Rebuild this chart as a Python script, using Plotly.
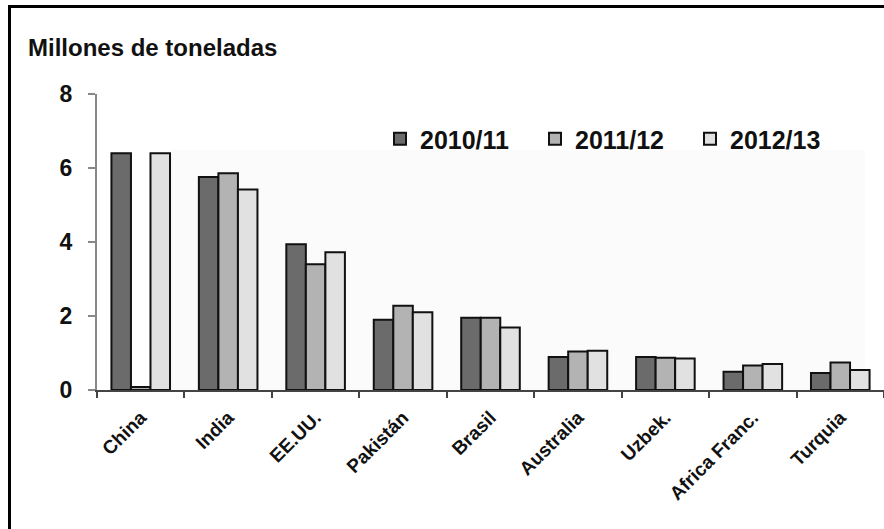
import plotly.graph_objects as go

categories = ["China", "India", "EE.UU.", "Pakistán", "Brasil", "Australia", "Uzbek.", "Africa Franc.", "Turquia"]
series_names = ["2010/11", "2011/12", "2012/13"]
v2010 = [6.40, 5.76, 3.94, 1.90, 1.95, 0.89, 0.89, 0.49, 0.46]
v2011 = [0.08, 5.86, 3.40, 2.28, 1.95, 1.04, 0.87, 0.66, 0.74]
v2012 = [6.40, 5.42, 3.72, 2.10, 1.69, 1.06, 0.85, 0.70, 0.54]
colors = ["#6b6b6b", "#b3b3b3", "#e1e1e1"]
yticks = [0, 2, 4, 6, 8]

W, H = 884, 529
L, T, R = 97, 94, 0
B = H - 390
pw, ph = W - L - R, H - T - B

def px_x(x):
    return (x - L) / pw

def px_y(y):
    return 1 - (y - T) / ph

FONT = "Liberation Sans, Arial, sans-serif"

fig = go.Figure()
for name, vals, col in zip(series_names, [v2010, v2011, v2012], colors):
    fig.add_trace(go.Bar(
        x=categories, y=vals, name=name,
        marker=dict(color=col, line=dict(color="#111111", width=2)),
    ))

fig.update_layout(
    width=W, height=H,
    margin=dict(l=L, r=R, t=T, b=B, pad=0),
    paper_bgcolor="white", plot_bgcolor="white",
    barmode="group", bargap=0.33, bargroupgap=0,
    font=dict(family=FONT, color="#111111"),
    showlegend=True,
    legend=dict(
        orientation="h", x=px_x(380), xanchor="left", y=px_y(139), yanchor="middle",
        font=dict(family=FONT, size=25, color="#111111", weight="bold"),
        entrywidth=110, entrywidthmode="pixels",
        itemsizing="constant", bgcolor="rgba(0,0,0,0)",
        tracegroupgap=0,
    ),
    xaxis=dict(
        showline=True, linecolor="#444444", linewidth=2,
        ticks="outside", tickson="boundaries", ticklen=6, tickcolor="#444444", tickwidth=2,
        tickangle=-45, tickfont=dict(family=FONT, size=19, color="#111111", weight="bold"),
        ticklabelstandoff=7,
        showgrid=False,
    ),
    yaxis=dict(
        range=[0, 8], tickvals=yticks, ticktext=[str(v) for v in yticks],
        showline=True, linecolor="#888888", linewidth=2,
        ticks="outside", ticklen=7, tickcolor="#888888", tickwidth=2,
        tickfont=dict(family=FONT, size=23, color="#111111", weight="bold"),
        ticklabelstandoff=11,
        showgrid=False, zeroline=False,
    ),
    annotations=[dict(
        text="<b>Millones de toneladas</b>", xref="paper", yref="paper",
        x=px_x(26), y=px_y(47), xanchor="left", yanchor="middle",
        showarrow=False, font=dict(family=FONT, size=24, color="#111111"),
    )],
    shapes=[
        dict(type="rect", xref="paper", yref="paper", layer="below",
             x0=px_x(170), x1=px_x(865), y0=px_y(390), y1=px_y(150),
             fillcolor="#fbfbfb", line=dict(width=0)),
        dict(type="line", xref="paper", yref="paper", x0=px_x(9.5), x1=px_x(9.5), y0=px_y(5.5), y1=px_y(529), line=dict(color="black", width=3)),
        dict(type="line", xref="paper", yref="paper", x0=px_x(8), x1=px_x(884), y0=px_y(6.5), y1=px_y(6.5), line=dict(color="black", width=3)),
    ],
)

fig.write_html("out.html", config={"displayModeBar": False},
               post_script="document.body.style.margin='0';document.body.style.overflow='hidden';")
